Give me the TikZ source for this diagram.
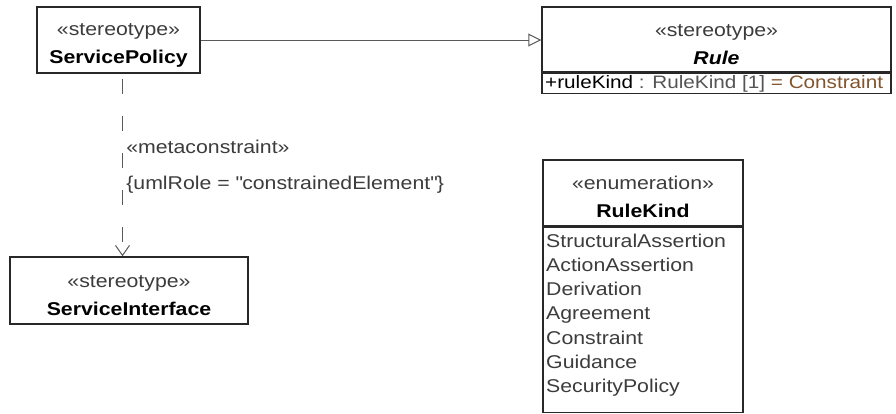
\documentclass[tikz,border=0pt]{standalone}
\usepackage{fontspec}
\setmainfont{Liberation Sans}[FakeStretch=1.15]
\usetikzlibrary{arrows.meta}

\definecolor{boxline}{RGB}{40,40,40}
\definecolor{connline}{RGB}{90,90,90}
\definecolor{sttext}{RGB}{60,60,60}
\definecolor{typetext}{RGB}{85,85,85}
\definecolor{valtext}{RGB}{130,85,45}

\newcommand{\sttype}[1]{\textcolor{sttext}{«#1»}}
\newcommand{\hdr}[2]{\rule{0pt}{22pt}\sttype{#1}\\#2}

\begin{document}
\begin{tikzpicture}[x=1pt, y=-1pt,
  every node/.style={font=\fontsize{18.5}{28}\selectfont},
  classbox/.style={draw=boxline, line width=1.5pt, inner sep=0pt, align=center},
  genline/.style={draw=connline, line width=1pt, -{Triangle[open, length=13pt, width=13pt]}},
  depline/.style={draw=connline, line width=1pt, dash pattern=on 15pt off 22pt, dash phase=32pt,
    -{Straight Barb[length=10pt, width=14pt]}},
  lbl/.style={anchor=west, text=sttext}]
  \fill[white] (0,0) rectangle (896,413);
  \useasboundingbox (0,0) rectangle (896,413);

  % Service policy
  \node[classbox, minimum width=163pt, minimum height=66pt] (sp) at (118.5,40) {\hdr{stereotype}{\textbf{ServicePolicy}}};

  % Rule
  \node[classbox, minimum width=349pt, minimum height=65pt] (ruleh) at (716.5,39.5) {\hdr{stereotype}{\textbf{\textit{Rule}}}};
  \node[classbox, minimum width=349pt, minimum height=20pt, anchor=north] (ruleb) at (ruleh.south) {};
  \node[anchor=base west, inner sep=0pt, font=\fontsize{18}{28}\selectfont] (attr) at (545,88) {+ruleKind \textcolor{typetext}{: RuleKind [1]} \textcolor{valtext}{= Constraint}};

  % Service interface
  \node[classbox, minimum width=238pt, minimum height=67pt] (si) at (129,290.5) {\hdr{stereotype}{\textbf{ServiceInterface}}};

  % Rule kind
  \node[classbox, minimum width=200pt, minimum height=66pt] (rkh) at (643,193) {\hdr{enumeration}{\textbf{RuleKind}}};
  \node[classbox, minimum width=200pt, minimum height=185pt, anchor=north] (rkb) at (rkh.south) {};
  \foreach \lit [count=\i from 0] in {StructuralAssertion, ActionAssertion, Derivation, Agreement, Constraint, Guidance, SecurityPolicy}
    \node[anchor=base west, inner sep=0pt, text=sttext] (lit\i) at (546,{247+24.3*\i}) {\lit};

  \draw[genline] (sp.east) -- (sp.east -| ruleh.west);

  % Metaconstraint
  \draw[depline] ([xshift=4pt]sp.south) -- ([xshift=4pt]sp.south |- si.north)
    node[lbl, pos=0.40] (mc) {«metaconstraint»}
    node[lbl, pos=0.61] (ur) {\{umlRole = \textquotedbl constrainedElement\textquotedbl\}};
\end{tikzpicture}
\end{document}
